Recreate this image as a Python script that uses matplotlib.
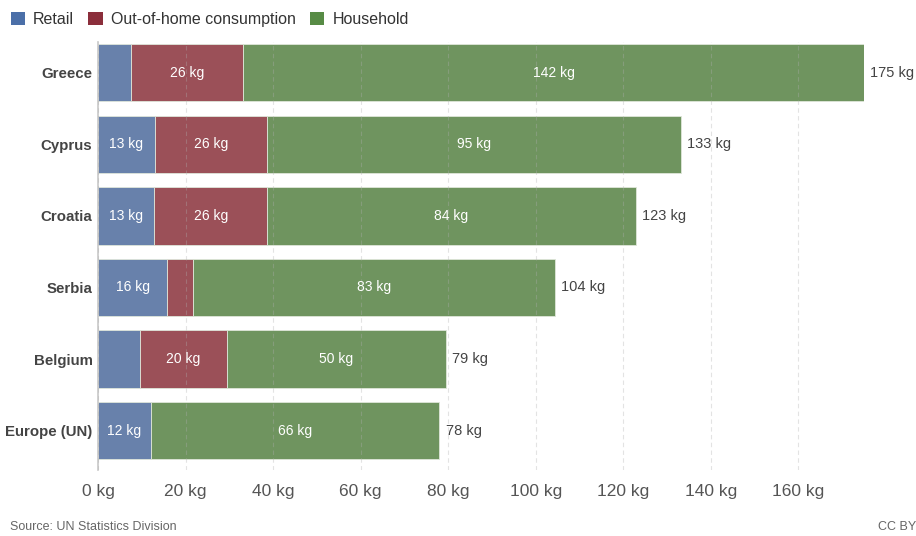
import matplotlib.pyplot as plt
from matplotlib.patches import Patch
import numpy as np

plt.rcParams['font.family'] = ['Liberation Sans', 'DejaVu Sans']

countries = ['Greece', 'Cyprus', 'Croatia', 'Serbia', 'Belgium', 'Europe (UN)']
retail = [7.5, 13.0, 12.9, 15.8, 9.6, 12.0]
out_of_home = [25.6, 25.6, 25.7, 5.9, 19.8, 0.0]
household = [141.9, 94.6, 84.2, 82.7, 50.0, 66.0]
xticks = [0, 20, 40, 60, 80, 100, 120, 140, 160]

series = [('Retail', retail, '#6881ab', '#4b6fa8'),
          ('Out-of-home consumption', out_of_home, '#9b5058', '#8b2e3b'),
          ('Household', household, '#6f945f', '#578b45')]

fig = plt.figure(figsize=(9.16, 5.36), dpi=100)
ax = fig.add_axes([98 / 916, 66 / 536, 766 / 916, 428 / 536])

y = np.arange(len(countries))
left = np.zeros(len(countries))
for name, vals, col, _ in series:
    vals = np.array(vals)
    ax.barh(y, vals, left=left, height=0.8, color=col, edgecolor='#dfe6da',
            linewidth=0.6, zorder=2)
    # value labels inside segments wide enough
    for yi, l, v in zip(y, left, vals):
        if v >= 10:
            ax.text(l + v / 2, yi, f'{round(v):.0f} kg', ha='center', va='center',
                    color='white', fontsize=10, zorder=4)
    left = left + vals

for yi, tot in zip(y, left):
    ax.annotate(f'{round(tot):.0f} kg', (tot, yi), xytext=(4.5, 0),
                textcoords='offset points', ha='left', va='center',
                color='#444444', fontsize=10.5)

ax.set_xlim(0, 175)
ax.set_ylim(5.55, -0.43)
ax.set_yticks(y)
ax.set_yticklabels(countries, fontsize=10.8, fontweight='bold', color='#444444')
ax.set_xticks(xticks)
ax.set_xticklabels([f'{t} kg' for t in xticks], fontsize=12.5, color='#555555')
ax.tick_params(axis='both', length=0)
ax.tick_params(axis='x', pad=10)
ax.tick_params(axis='y', pad=4)

for s in ['top', 'right', 'bottom']:
    ax.spines[s].set_visible(False)
ax.spines['left'].set_color('#c8c8c8')
ax.spines['left'].set_linewidth(1.2)

ax.xaxis.grid(True, linestyle=(0, (4, 3)), color='#b0b0b0', alpha=0.35,
              linewidth=0.8, zorder=3)
ax.set_axisbelow(False)

handles = [Patch(facecolor=lc, edgecolor='none') for _, _, _, lc in series]
fig.legend(handles, [s[0] for s in series], loc='upper left',
           bbox_to_anchor=(-0.004, 1.004), ncol=3, frameon=False, fontsize=11.5,
           handlelength=0.9, handleheight=0.9, handletextpad=0.5,
           columnspacing=0.9, labelcolor='#333333')

fig.text(10 / 916, 1 - 527 / 536, 'Source: UN Statistics Division', fontsize=9,
         color='#666666', va='center', ha='left')
fig.text(878 / 916, 1 - 527 / 536, 'CC BY', fontsize=9, color='#666666',
         va='center', ha='left')

fig.savefig('out.png', dpi=100)
